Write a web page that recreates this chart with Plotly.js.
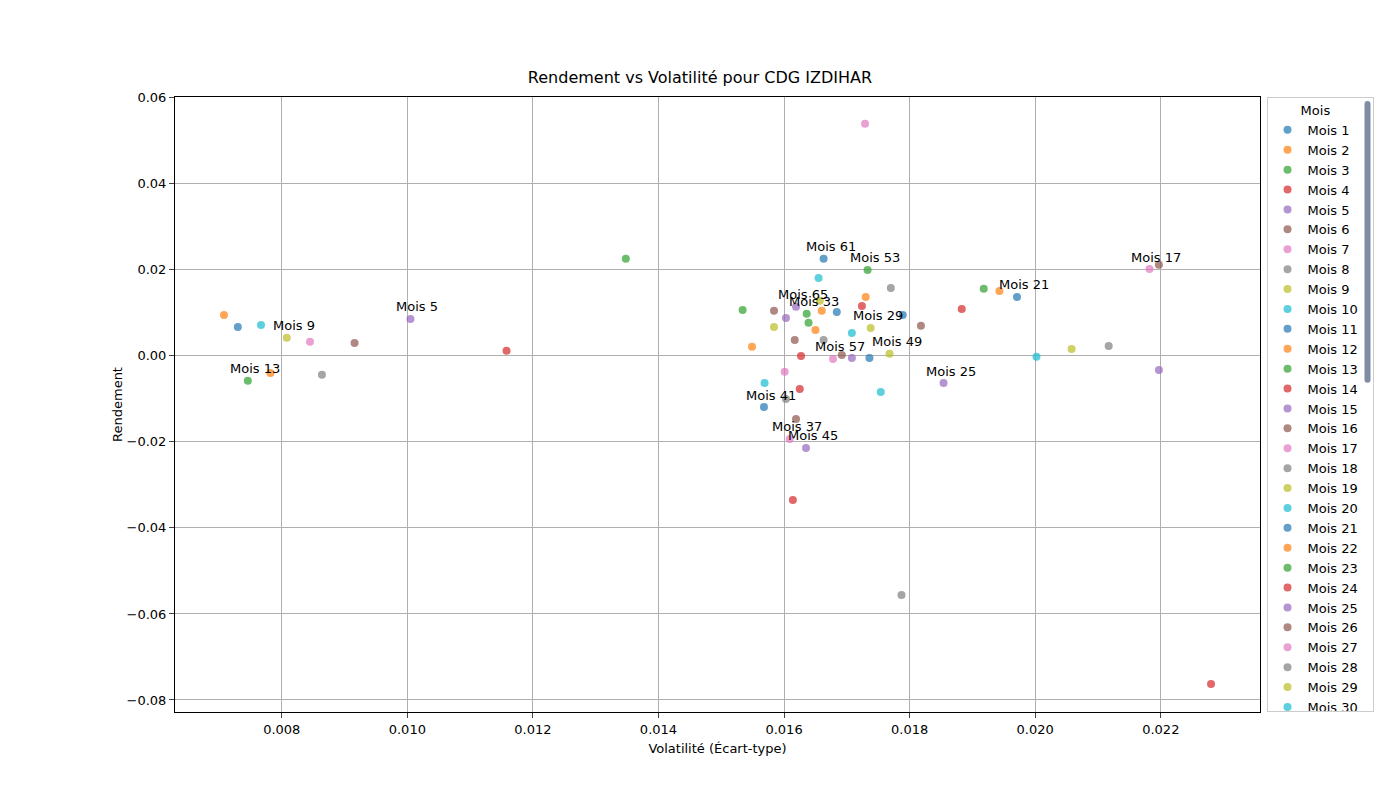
<!DOCTYPE html>
<html><head><meta charset="utf-8">
<script src="https://cdn.plot.ly/plotly-3.0.1.min.js"></script>
<style>body{margin:0;background:#fff}#c{width:1400px;height:800px}</style></head>
<body><div id="c"></div>
<script>
const months = [];
for (let m = 1; m <= 66; m++) months.push(m);
const volatility = {
1:0.00730,2:0.00708,3:0.01348,4:0.01158,5:0.01005,6:0.00916,7:0.00845,8:0.00864,9:0.00808,10:0.00767,
11:0.01736,12:0.00782,13:0.00746,14:0.01625,15:0.02197,16:0.01584,17:0.02182,18:0.01603,19:0.01584,20:0.01569,
21:0.01971,22:0.01943,23:0.01918,24:0.01627,25:0.01854,26:0.01617,27:0.01729,28:0.01770,29:0.01738,30:0.01655,
31:0.01684,32:0.01730,33:0.01636,34:0.01614,35:0.01603,36:0.01619,37:0.01609,38:0.01787,39:0.01657,40:0.01708,
41:0.01568,42:0.01660,43:0.01534,44:0.01724,45:0.01635,46:0.01692,47:0.01601,48:0.02117,49:0.01768,50:0.01754,
51:0.01789,52:0.01650,53:0.01733,54:0.01883,55:0.01708,56:0.01818,57:0.01678,58:0.01663,59:0.02058,60:0.02002,
61:0.01663,62:0.01549,63:0.01639,64:0.02280,65:0.01619,66:0.02197};
const returns = {
1:0.0067,2:0.0095,3:0.0226,4:0.0012,5:0.0086,6:0.0030,7:0.0033,8:-0.0044,9:0.0042,10:0.0072,
11:-0.0005,12:-0.0040,13:-0.0058,14:-0.0077,15:-0.0033,16:0.0105,17:0.0202,18:-0.0100,19:0.0067,20:-0.0063,
21:0.0137,22:0.0151,23:0.0156,24:0.0000,25:-0.0063,26:0.0037,27:0.0540,28:0.0158,29:0.0065,30:0.0181,
31:0.0102,32:0.0137,33:0.0098,34:-0.0335,35:0.0088,36:-0.0147,37:-0.0193,38:-0.0556,39:0.0128,40:0.0053,
41:-0.0119,42:0.0105,43:0.0107,44:0.0116,45:-0.0214,46:0.0002,47:-0.0037,48:0.0023,49:0.0005,50:-0.0084,
51:0.0095,52:0.0060,53:0.0200,54:0.0109,55:-0.0005,56:0.0070,57:-0.0007,58:0.0037,59:0.0016,60:-0.0002,
61:0.0226,62:0.0021,63:0.0077,64:-0.0763,65:0.0114,66:0.0212};
const labeled = [5,9,13,17,21,25,29,33,37,41,45,49,53,57,61,65];
const palette = ['#1f77b4','#ff7f0e','#2ca02c','#d62728','#9467bd','#8c564b','#e377c2','#7f7f7f','#bcbd22','#17becf'];

const traces = months.map(m => ({
  x:[volatility[m]], y:[returns[m]], type:'scatter', mode:'markers', name:'Mois '+m,
  marker:{color:palette[(m-1)%10], size:8, opacity:0.7}
}));
const annotations = labeled.map(m => ({
  x:volatility[m], y:returns[m], text:'Mois '+m, showarrow:false, xshift:7, yshift:12,
  font:{size:13,color:'#000'}
}));
Plotly.newPlot('c', traces, {
  width:1400, height:800,
  margin:{l:175,r:140,t:97,b:88},
  paper_bgcolor:'#fff', plot_bgcolor:'#fff',
  font:{family:'DejaVu Sans', size:13, color:'#000'},
  title:{text:'Rendement vs Volatilité pour CDG IZDIHAR', x:0.5, xanchor:'center', y:0.91, font:{size:16}},
  xaxis:{range:[0.00630,0.02358], tickvals:[0.008,0.010,0.012,0.014,0.016,0.018,0.020,0.022], tickformat:'.3f',
    showgrid:true, gridcolor:'#b0b0b0', zeroline:false, showline:true, mirror:true, linecolor:'#000', ticks:'outside',
    title:{text:'Volatilité (Écart-type)', font:{size:13}, standoff:8}},
  yaxis:{range:[-0.0828,0.0602], tickvals:[-0.08,-0.06,-0.04,-0.02,0,0.02,0.04,0.06], tickformat:'.2f',
    showgrid:true, gridcolor:'#b0b0b0', zeroline:false, showline:true, mirror:true, linecolor:'#000', ticks:'outside',
    title:{text:'Rendement', font:{size:13}}},
  legend:{x:1.006, y:1.0, xanchor:'left', yanchor:'top', bordercolor:'#ccc', borderwidth:1,
    title:{text:'Mois', side:'top center', font:{size:13}}, font:{size:13}, tracegroupgap:0},
  annotations: annotations
}, {displayModeBar:false});
</script></body></html>
